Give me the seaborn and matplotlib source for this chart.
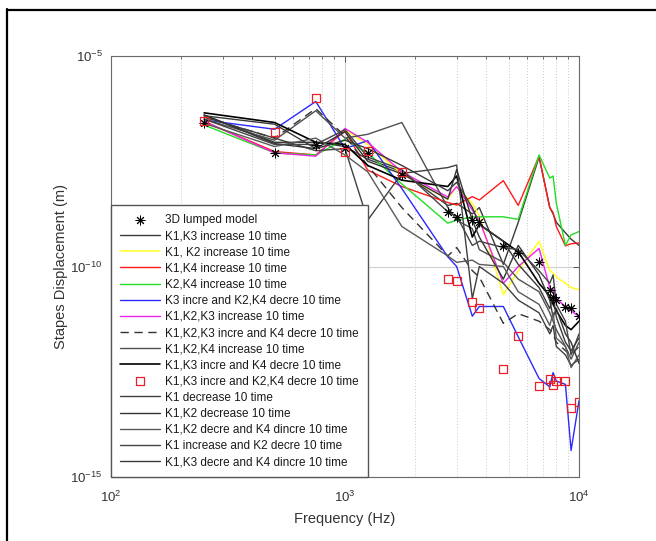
import numpy as np
import pandas as pd
import matplotlib
matplotlib.use("Agg")
import matplotlib.pyplot as plt
import seaborn as sns
from matplotlib.lines import Line2D
from matplotlib.ticker import FixedLocator, NullLocator, NullFormatter, LogFormatterSciNotation

# ---------------- data (frequency in Hz, log10 of displacement in m) ----------------
freq_hz = [250, 500, 750, 1000, 1250, 1750, 2750, 3000, 3500, 3750,
           4750, 5500, 6750, 7500, 7750, 8000, 8750, 9250, 10000]

lumped_3d = [-6.60, -7.31, -7.11, -7.19, -7.30, -7.83, -8.70, -8.82, -8.90, -8.94,
             -9.51, -9.69, -9.89, -10.57, -10.72, -10.80, -10.97, -10.99, -11.18]
k1k3_inc = [-6.40, -7.05, -7.05, -7.15, -7.45, -7.75, -8.55, -8.50, -8.75, -8.60,
            -9.95, -8.95, -7.40, -8.60, -8.75, -8.95, -9.20, -9.35, -9.50]
k1k2_inc = [-6.55, -7.30, -7.36, -6.75, -7.10, -7.80, -8.40, -8.10, -8.50, -8.80,
            -10.67, -10.10, -9.40, -10.10, -10.15, -10.25, -10.40, -10.50, -10.55]
k1k4_inc = [-6.56, -7.27, -7.35, -6.78, -7.71, -8.10, -8.48, -8.54, -8.34, -8.42,
            -7.96, -8.55, -7.38, -8.60, -8.72, -9.05, -9.51, -9.46, -9.44]
k2k4_inc = [-6.64, -7.30, -7.35, -6.98, -7.30, -8.04, -8.97, -8.90, -8.82, -8.82,
            -8.82, -8.88, -7.35, -7.90, -7.85, -8.50, -9.50, -9.25, -9.17]
k3i_k2k4d = [-6.52, -6.74, -6.08, -7.20, -7.01, -8.15, -9.77, -10.00, -11.18, -10.95,
             -10.95, -11.67, -12.66, -12.86, -12.52, -12.72, -12.80, -14.37, -13.19]
k1k2k3_inc = [-6.55, -7.30, -7.38, -6.72, -7.05, -7.75, -8.35, -8.10, -8.66, -8.90,
              -10.40, -10.00, -9.57, -10.50, -10.55, -10.76, -10.95, -11.05, -11.19]
k1k2k3i_k4d = [-6.45, -6.95, -6.25, -6.90, -7.60, -8.60, -9.75, -9.55, -10.10, -10.25,
               -11.35, -11.12, -11.30, -11.50, -11.60, -11.80, -12.00, -12.10, -11.90]
k1k2k4_inc = [-6.50, -7.00, -6.30, -6.95, -6.86, -6.58, -8.60, -8.90, -9.10, -9.60,
              -9.90, -10.30, -10.60, -11.10, -11.30, -11.50, -11.90, -12.20, -11.80]
k1k3i_k4d = [-6.35, -6.58, -7.05, -7.10, -7.60, -7.95, -8.10, -7.85, -9.30, -9.00,
             -9.40, -9.65, -10.40, -10.70, -10.90, -11.05, -11.40, -11.50, -11.30]
k1k3i_k2k4d = [-6.54, -6.81, -5.99, -7.29, -7.25, -7.76, -10.30, -10.34, -10.84, -10.98,
               -12.44, -11.66, -12.83, -12.68, -12.81, -12.72, -12.72, -13.36, -13.21]
k1_dec = [-6.45, -6.95, -7.25, -7.20, -8.90, -7.79, -7.65, -7.59, -10.76, -10.00,
          -10.40, -10.80, -11.10, -11.60, -11.40, -11.90, -12.10, -12.35, -12.20]
k1k2_dec = [-6.40, -7.08, -7.20, -6.80, -7.50, -7.80, -8.40, -7.70, -8.90, -9.30,
            -10.30, -9.50, -10.20, -10.80, -11.20, -11.00, -11.60, -11.80, -12.30]
k1k2d_k4i = [-6.60, -7.15, -6.95, -7.35, -7.75, -9.05, -9.75, -9.90, -9.85, -9.95,
             -10.00, -10.60, -10.90, -11.40, -11.10, -11.70, -11.90, -12.40, -12.10]
k1i_k2d = [-6.50, -7.10, -7.10, -6.75, -7.40, -7.70, -8.70, -8.80, -9.50, -9.40,
           -9.55, -9.60, -10.10, -10.40, -10.20, -10.90, -11.30, -12.10, -11.60]
k1k3d_k4i = [-6.42, -6.62, -7.20, -7.00, -7.20, -7.60, -8.20, -8.00, -8.60, -9.00,
             -9.40, -9.95, -10.50, -11.00, -10.70, -11.20, -11.80, -12.00, -11.70]

series_labels = [
    "3D lumped model",
    "K1,K3 increase 10 time",
    "K1, K2 increase 10 time",
    "K1,K4 increase 10 time",
    "K2,K4 increase 10 time",
    "K3 incre and K2,K4 decre 10 time",
    "K1,K2,K3 increase 10 time",
    "K1,K2,K3 incre and K4 decre 10 time",
    "K1,K2,K4 increase 10 time",
    "K1,K3 incre and K4 decre 10 time",
    "K1,K3 incre and K2,K4 decre 10 time",
    "K1 decrease 10 time",
    "K1,K2 decrease 10 time",
    "K1,K2 decre and K4 dincre 10 time",
    "K1 increase and K2 decre 10 time",
    "K1,K3 decre and K4 dincre 10 time",
]
series_values = [lumped_3d, k1k3_inc, k1k2_inc, k1k4_inc, k2k4_inc, k3i_k2k4d,
                 k1k2k3_inc, k1k2k3i_k4d, k1k2k4_inc, k1k3i_k4d, k1k3i_k2k4d,
                 k1_dec, k1k2_dec, k1k2d_k4i, k1i_k2d, k1k3d_k4i]

# styles: (kind, color, linestyle, linewidth)
styles = [
    ("star", "black", None, None),
    ("line", "#3a3a3a", "-", 1.0),
    ("line", "#ffff22", "-", 1.1),
    ("line", "#ff1a1a", "-", 1.0),
    ("line", "#22dd22", "-", 1.0),
    ("line", "#2a2aff", "-", 1.0),
    ("line", "#ee22ee", "-", 1.0),
    ("line", "#333333", (0, (6, 4)), 1.0),
    ("line", "#505050", "-", 1.0),
    ("line", "#000000", "-", 1.2),
    ("square", "#e8202a", None, None),
    ("line", "#404040", "-", 1.0),
    ("line", "#333333", "-", 1.0),
    ("line", "#5a5a5a", "-", 1.0),
    ("line", "#444444", "-", 1.0),
    ("line", "#3a3a3a", "-", 1.0),
]

frames = []
for lab, vals in zip(series_labels, series_values):
    frames.append(pd.DataFrame({"freq": freq_hz,
                                "disp": np.power(10.0, np.array(vals)),
                                "series": lab}))
df = pd.concat(frames, ignore_index=True)

# ---------------- figure ----------------
sns.set_style("white")
plt.rcParams["font.family"] = ["Liberation Sans", "DejaVu Sans"]
plt.rcParams["mathtext.default"] = "regular"

W, H = 656, 541
fig = plt.figure(figsize=(W / 100, H / 100), dpi=100)
ax = fig.add_axes([111 / W, 1 - 477 / H, 468 / W, 421 / H])
ax.set_xscale("log")
ax.set_yscale("log")

handles = []
for lab, sty in zip(series_labels, styles):
    kind, col, ls, lw = sty
    sub = df[df["series"] == lab]
    if kind == "line":
        sns.lineplot(data=sub, x="freq", y="disp", ax=ax, color=col, linestyle=ls,
                     linewidth=lw, estimator=None, sort=False, legend=False)
        handles.append(ax.lines[-1])
    elif kind == "star":
        sns.scatterplot(data=sub, x="freq", y="disp", ax=ax, marker=(8, 2, 0),
                        s=42, color=col, linewidth=0.7, legend=False, zorder=5)
        handles.append(ax.collections[-1])
    else:
        sns.scatterplot(data=sub, x="freq", y="disp", ax=ax, marker="s", s=34,
                        facecolor="none", edgecolor=col, linewidth=0.9,
                        legend=False, zorder=5)
        handles.append(ax.collections[-1])

ax.set_xlim(100, 10000)
ax.set_ylim(1e-15, 1e-5)

# ticks
ax.xaxis.set_major_locator(FixedLocator([1e2, 1e3, 1e4]))
minor_x = [m * d for d in (100, 1000) for m in range(2, 10)]
ax.xaxis.set_minor_locator(FixedLocator(minor_x))
ax.xaxis.set_minor_formatter(NullFormatter())
ax.yaxis.set_major_locator(FixedLocator([1e-15, 1e-10, 1e-5]))
ax.yaxis.set_minor_locator(NullLocator())
ax.xaxis.set_major_formatter(LogFormatterSciNotation())
ax.yaxis.set_major_formatter(LogFormatterSciNotation())

ax.tick_params(which="both", direction="in", top=True, right=True,
               colors="#555555", labelcolor="#333333", labelsize=9.5)
ax.tick_params(which="major", length=4, width=0.7)
ax.tick_params(which="minor", length=2.5, width=0.6)
ax.tick_params(axis="x", pad=9)
ax.tick_params(axis="y", pad=6)

# grid
ax.grid(False)
ax.xaxis.grid(True, which="major", color="#d0d0d0", linestyle="-", linewidth=0.8)
ax.xaxis.grid(True, which="minor", color="#c8c8c8", linestyle=(0, (1, 2)), linewidth=0.7)
ax.yaxis.grid(True, which="major", color="#d0d0d0", linestyle="-", linewidth=0.8)
ax.set_axisbelow(True)

for sp in ax.spines.values():
    sp.set_visible(True)
    sp.set_color("#6a6a6a")
    sp.set_linewidth(0.8)

ax.set_xlabel("Frequency (Hz)", fontsize=10.5, color="#333333", labelpad=5)
ax.set_ylabel("Stapes Displacement (m)", fontsize=10.5, color="#333333", labelpad=2)

leg = ax.legend(handles, series_labels, loc="lower left", bbox_to_anchor=(0, 0),
                borderaxespad=0, fontsize=8.5, frameon=True, fancybox=False,
                edgecolor="#555555", framealpha=1, handlelength=3.4,
                handletextpad=0.45, labelspacing=0.35, borderpad=0.75,
                scatterpoints=1)
leg.get_frame().set_linewidth(1.0)
for t in leg.get_texts():
    t.set_color("#1a1a1a")

# outer border (left and top only)
fig.add_artist(Line2D([6.5 / W, 6.5 / W], [0, 1 - 9 / H], transform=fig.transFigure,
                      color="black", linewidth=1.6))
fig.add_artist(Line2D([6.5 / W, 1], [1 - 9.5 / H, 1 - 9.5 / H], transform=fig.transFigure,
                      color="black", linewidth=1.6))

fig.savefig("out.png", dpi=100, facecolor="white")
